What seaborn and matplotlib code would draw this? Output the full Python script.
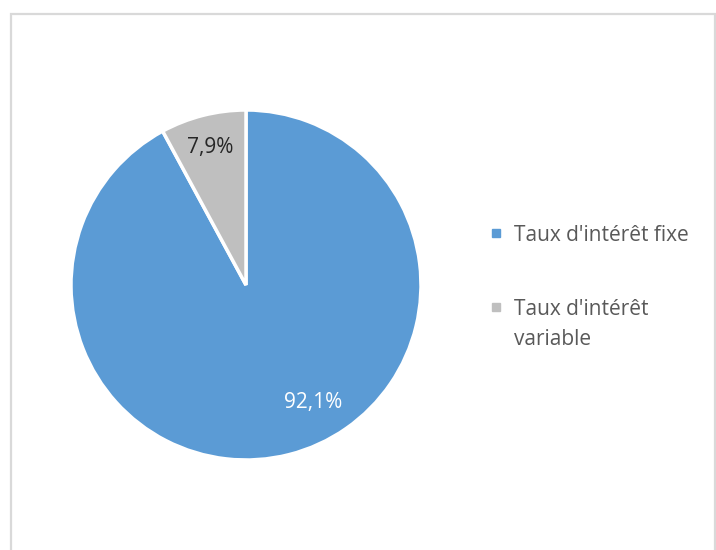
import numpy as np
import matplotlib.pyplot as plt
import seaborn as sns
from matplotlib.lines import Line2D
from matplotlib.patches import Rectangle

# --- Données ---
categories = ["Taux d'intérêt fixe", "Taux d'intérêt"]
category_wrap = ["", "variable"]
shares = [92.1, 7.9]
pct_labels = ["92,1%", "7,9%"]
colors = ["#5B9BD5", "#BFBFBF"]
pct_colors = ["white", "#262626"]

sns.set_theme(style="white")
plt.rcParams['font.family'] = ['Open Sans', 'DejaVu Sans']

fig = plt.figure(figsize=(7.16, 5.5), dpi=100)
fig.patch.set_facecolor("white")

# cadre gris
fig.patches.append(Rectangle((10.5/716, -0.05), 704.5/716, 1 - 13.5/550 + 0.05,
                             transform=fig.transFigure, fill=False,
                             edgecolor="#D9D9D9", linewidth=1.6, zorder=0))

ax = fig.add_axes([71/716, 90/550, 350/716, 350/550])
wedges, _ = ax.pie(shares, colors=colors, startangle=90, counterclock=False,
                   radius=1, wedgeprops=dict(edgecolor="white", linewidth=2.5))
ax.set_xlim(-1.0, 1.0)
ax.set_ylim(-1.0, 1.0)
ax.set_aspect("equal")
ax.axis("off")

# étiquettes de pourcentage (positions type Excel)
label_xy = [(0.383, -0.672), (-0.205, 0.785)]
for (x, y), txt, c in zip(label_xy, pct_labels, pct_colors):
    ax.text(x, y, txt, ha="center", va="center", color=c, fontsize=15)

handles = [Line2D([0], [0], marker="s", linestyle="none", markersize=6,
                  markerfacecolor=c, markeredgecolor=c) for c in colors]
leg = fig.legend(handles, categories, loc="upper left",
                 bbox_to_anchor=(471/716, 1 - 206/550), frameon=False,
                 fontsize=15, handlelength=0.6, handletextpad=0.54,
                 labelspacing=2.54, labelcolor="#595959")

# deuxième ligne des libellés, alignée sous la première
fig.canvas.draw()
for t, extra in zip(leg.get_texts(), category_wrap):
    if extra:
        bb = t.get_window_extent()
        x0, y0 = fig.transFigure.inverted().transform((bb.x0, bb.y0))
        fig.text(x0, y0 - 30/550, extra, ha="left", va="bottom",
                 fontsize=15, color="#595959")

fig.savefig("out.png", dpi=100, facecolor="white")
